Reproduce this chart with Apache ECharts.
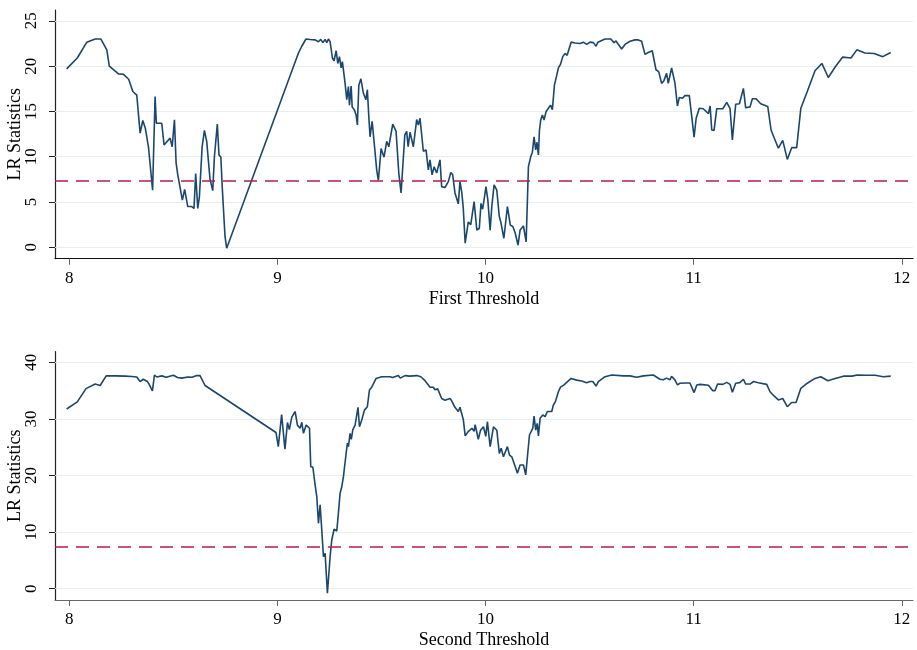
<!DOCTYPE html>
<html>
<head>
<meta charset="utf-8">
<script src="https://cdn.jsdelivr.net/npm/echarts@6/dist/echarts.min.js"></script>
<style>
  html, body { margin: 0; padding: 0; background: #fff; }
  #chart { width: 917px; height: 650px; }
</style>
</head>
<body>
<div id="chart"></div>
<script>
// 第一门槛 LR 统计量
const firstX = [7.987, 8.038, 8.084, 8.124, 8.151, 8.18, 8.192, 8.236, 8.26, 8.285, 8.305, 8.324, 8.34, 8.353, 8.365, 8.38, 8.40, 8.412, 8.418, 8.444,
  8.455, 8.484, 8.494, 8.505, 8.513, 8.521, 8.53, 8.543, 8.554, 8.569, 8.588, 8.599, 8.607, 8.617, 8.625, 8.638, 8.649, 8.66, 8.676, 8.689,
  8.697, 8.711, 8.719, 8.728, 8.735, 8.743, 8.748, 8.756, 9.100, 9.117, 9.137, 9.157, 9.181, 9.197, 9.208, 9.218, 9.229, 9.237, 9.245, 9.253,
  9.264, 9.272, 9.282, 9.29, 9.298, 9.306, 9.312, 9.325, 9.333, 9.341, 9.346, 9.354, 9.359, 9.369, 9.378, 9.384, 9.391, 9.401, 9.413, 9.425,
  9.432, 9.439, 9.445, 9.455, 9.468, 9.477, 9.485, 9.498, 9.512, 9.525, 9.535, 9.554, 9.57, 9.583, 9.594, 9.612, 9.621, 9.628, 9.637, 9.653,
  9.669, 9.677, 9.685, 9.701, 9.714, 9.725, 9.733, 9.743, 9.753, 9.765, 9.781, 9.789, 9.805, 9.821, 9.833, 9.842, 9.853, 9.869, 9.877, 9.886,
  9.893, 9.902, 9.917, 9.929, 9.945, 9.951, 9.958, 9.97, 9.978, 9.986, 10.002, 10.011, 10.022, 10.03, 10.041, 10.054, 10.066, 10.073, 10.088, 10.105,
  10.119, 10.131, 10.142, 10.156, 10.166, 10.182, 10.195, 10.206, 10.217, 10.225, 10.233, 10.241, 10.247, 10.254, 10.259, 10.265, 10.273, 10.281, 10.291, 10.302,
  10.312, 10.321, 10.331, 10.338, 10.35, 10.36, 10.371, 10.382, 10.392, 10.411, 10.43, 10.454, 10.47, 10.486, 10.502, 10.518, 10.531, 10.54, 10.574, 10.602,
  10.617, 10.627, 10.635, 10.654, 10.67, 10.694, 10.718, 10.734, 10.75, 10.766, 10.782, 10.801, 10.819, 10.832, 10.846, 10.857, 10.87, 10.878, 10.894, 10.91,
  10.922, 10.931, 10.947, 10.958, 10.979, 10.991, 11.002, 11.012, 11.027, 11.046, 11.071, 11.079, 11.087, 11.098, 11.111, 11.14, 11.159, 11.175, 11.186, 11.202,
  11.22, 11.239, 11.25, 11.271, 11.282, 11.3, 11.322, 11.356, 11.372, 11.391, 11.407, 11.428, 11.45, 11.471, 11.495, 11.515, 11.546, 11.583, 11.616, 11.647,
  11.68, 11.716, 11.756, 11.784, 11.823, 11.867, 11.909, 11.947];
const firstLR = [19.7, 20.9, 22.65, 23.0, 23.0, 21.8, 20.0, 19.15, 19.1, 18.55, 17.2, 16.8, 12.6, 14.0, 13.15, 11.1, 6.3, 16.65, 13.7, 13.7,
  11.3, 12.05, 11.1, 14.07, 9.3, 8.0, 8.05, 5.2, 6.4, 4.5, 4.5, 4.3, 8.15, 4.3, 5.6, 11.1, 12.9, 11.7, 7.5, 6.25,
  10.0, 13.6, 10.2, 9.95, 6.5, 6.3, 1.2, -0.1, 21.4, 22.2, 23.0, 22.95, 22.9, 22.7, 22.95, 22.6, 22.95, 22.6, 23.0, 22.7,
  20.9, 20.6, 21.7, 20.3, 21.05, 19.8, 20.5, 18.1, 16.3, 17.75, 15.7, 17.8, 15.5, 15.2, 14.6, 13.5, 17.9, 18.6, 17.0, 16.3,
  17.4, 14.4, 12.2, 13.9, 10.75, 8.5, 7.4, 10.9, 9.95, 11.7, 11.1, 13.6, 12.8, 8.2, 6.0, 12.4, 12.8, 11.1, 12.7, 11.1,
  14.1, 13.5, 14.25, 10.6, 10.75, 8.55, 9.65, 8.0, 8.9, 8.2, 9.65, 6.7, 6.6, 7.25, 8.25, 8.0, 6.0, 4.8, 7.25, 6.0,
  4.3, 0.45, 2.8, 2.5, 5.05, 5.2, 1.9, 2.1, 4.85, 4.2, 6.7, 5.2, 1.9, 4.5, 6.9, 6.3, 3.4, 2.8, 1.0, 4.5,
  2.45, 2.3, 1.6, 0.25, 1.9, 2.35, 0.6, 8.9, 10.0, 10.5, 12.2, 10.75, 11.6, 10.2, 12.95, 14.05, 14.6, 14.05, 15.0, 15.35,
  15.7, 15.2, 17.9, 17.8, 19.8, 20.2, 21.05, 21.4, 21.2, 22.65, 22.55, 22.5, 22.65, 22.4, 22.65, 22.6, 22.2, 22.65, 23.0, 23.0,
  22.6, 22.8, 22.5, 21.9, 22.4, 22.75, 22.9, 22.9, 22.75, 21.3, 21.5, 21.7, 19.6, 19.4, 18.1, 18.4, 19.2, 18.1, 19.8, 18.15,
  15.6, 16.55, 16.45, 16.75, 16.75, 14.4, 12.15, 14.25, 15.35, 15.3, 14.75, 15.6, 12.95, 12.9, 15.3, 15.3, 16.0, 15.3, 11.85, 15.8,
  15.85, 17.55, 15.4, 15.5, 16.4, 16.4, 15.85, 15.55, 12.95, 11.85, 10.95, 11.8, 9.7, 11.0, 11.0, 15.35, 17.2, 19.5, 20.3, 18.75,
  19.9, 21.0, 20.9, 21.8, 21.45, 21.4, 21.05, 21.5];

// 第二门槛 LR 统计量
const secondX = [7.987, 8.038, 8.08, 8.124, 8.148, 8.177, 8.22, 8.268, 8.3, 8.324, 8.34, 8.355, 8.375, 8.383, 8.399, 8.409, 8.42, 8.444, 8.465, 8.5,
  8.52, 8.54, 8.57, 8.59, 8.612, 8.628, 8.652, 8.993, 9.004, 9.02, 9.036, 9.048, 9.057, 9.069, 9.085, 9.096, 9.109, 9.117, 9.125, 9.138,
  9.154, 9.16, 9.17, 9.181, 9.189, 9.197, 9.205, 9.213, 9.221, 9.229, 9.24, 9.253, 9.261, 9.272, 9.285, 9.293, 9.301, 9.309, 9.317, 9.33,
  9.336, 9.341, 9.349, 9.355, 9.362, 9.373, 9.387, 9.394, 9.405, 9.418, 9.432, 9.442, 9.453, 9.474, 9.501, 9.541, 9.553, 9.581, 9.59, 9.613,
  9.635, 9.669, 9.689, 9.709, 9.725, 9.733, 9.749, 9.757, 9.77, 9.789, 9.805, 9.829, 9.837, 9.853, 9.869, 9.877, 9.893, 9.902, 9.918, 9.934,
  9.945, 9.95, 9.965, 9.976, 9.99, 10.001, 10.009, 10.022, 10.038, 10.054, 10.066, 10.075, 10.086, 10.105, 10.115, 10.126, 10.137, 10.153, 10.166, 10.182,
  10.193, 10.211, 10.227, 10.233, 10.241, 10.248, 10.254, 10.262, 10.275, 10.286, 10.297, 10.318, 10.326, 10.335, 10.35, 10.36, 10.377, 10.385, 10.411, 10.438,
  10.462, 10.486, 10.502, 10.515, 10.531, 10.542, 10.574, 10.606, 10.662, 10.694, 10.726, 10.758, 10.806, 10.838, 10.854, 10.87, 10.886, 10.894, 10.91, 10.922,
  10.934, 10.963, 10.982, 11.002, 11.015, 11.031, 11.071, 11.079, 11.091, 11.103, 11.115, 11.14, 11.159, 11.175, 11.186, 11.202, 11.222, 11.239, 11.25, 11.271,
  11.287, 11.311, 11.351, 11.367, 11.386, 11.407, 11.428, 11.45, 11.471, 11.492, 11.515, 11.546, 11.583, 11.611, 11.645, 11.68, 11.72, 11.76, 11.787, 11.83,
  11.872, 11.911, 11.947];
const secondLR = [31.75, 33.0, 35.35, 36.15, 35.9, 37.6, 37.6, 37.55, 37.5, 37.4, 36.6, 37.0, 36.6, 36.15, 34.95, 37.75, 37.4, 37.6, 37.35, 37.7,
  37.3, 37.2, 37.4, 37.35, 37.65, 37.65, 35.9, 27.6, 25.1, 30.75, 24.65, 29.35, 28.1, 30.3, 31.3, 28.9, 28.35, 29.4, 27.45, 28.9,
  28.35, 21.55, 21.5, 18.3, 16.25, 11.55, 14.8, 10.35, 5.65, 6.25, -0.8, 5.65, 8.6, 10.5, 10.2, 13.4, 16.85, 18.0, 19.8, 23.9,
  25.7, 25.1, 27.45, 26.4, 28.05, 28.9, 32.05, 28.6, 29.8, 31.55, 32.15, 35.1, 35.6, 37.15, 37.45, 37.45, 37.3, 37.65, 37.2, 37.65,
  37.55, 37.65, 37.45, 36.75, 36.0, 35.6, 35.6, 35.15, 35.3, 33.6, 33.3, 33.6, 33.2, 32.05, 31.3, 32.05, 29.9, 27.0, 27.8, 28.35,
  27.8, 29.0, 26.4, 28.0, 28.6, 26.9, 29.5, 25.1, 28.6, 28.0, 23.9, 24.8, 23.3, 25.1, 23.6, 23.3, 22.15, 20.4, 21.85, 21.85,
  20.1, 27.15, 28.35, 30.5, 28.0, 29.2, 27.0, 30.1, 30.7, 30.4, 31.3, 31.3, 32.45, 33.0, 34.8, 35.6, 36.0, 36.2, 37.15, 36.85,
  36.7, 36.4, 36.6, 36.6, 35.8, 36.6, 37.45, 37.75, 37.6, 37.6, 37.35, 37.6, 37.75, 37.0, 36.9, 37.2, 36.9, 37.5, 36.9, 36.0,
  36.3, 36.35, 36.35, 34.65, 36.0, 36.1, 35.95, 36.3, 35.0, 35.0, 36.15, 36.1, 36.45, 36.1, 34.7, 36.3, 36.4, 37.0, 36.15, 36.15,
  36.6, 36.4, 36.1, 34.8, 34.05, 33.35, 33.6, 32.15, 32.9, 32.9, 35.4, 36.3, 37.15, 37.45, 36.75, 37.15, 37.55, 37.55, 37.75, 37.7,
  37.7, 37.45, 37.55];

const xTicks = [8, 9, 10, 11, 12];
const firstTicks = [0, 5, 10, 15, 20, 25];
const secondTicks = [0, 10, 20, 30, 40];
const criticalValue = 7.35; // 5% 临界值

const font = 'Liberation Serif';
const lineColor = '#1a476f';
const gridColor = '#e6eef0';

function makeX(gridIndex, name, nameGap, axisColor) {
  return {
    type: 'value',
    gridIndex,
    min: 7.931,
    max: 12.054,
    name,
    nameLocation: 'middle',
    nameGap,
    nameMoveOverlap: false,
    nameTextStyle: { fontFamily: font, fontSize: 18, color: '#000' },
    axisLine: { onZero: false, lineStyle: { color: axisColor, width: 1.2 } },
    axisTick: { customValues: xTicks, length: 6, lineStyle: { color: '#666' } },
    axisLabel: { customValues: xTicks, margin: 11, fontFamily: font, fontSize: 17, color: '#000' },
    splitLine: { show: false },
  };
}

function makeY(gridIndex, min, max, ticks) {
  return {
    type: 'value',
    gridIndex,
    min,
    max,
    name: 'LR Statistics',
    nameLocation: 'middle',
    nameGap: 31,
    nameMoveOverlap: false,
    nameTextStyle: { fontFamily: font, fontSize: 18, color: '#000' },
    axisLine: { show: true, lineStyle: { color: '#222', width: 1.2 } },
    axisTick: { show: true, customValues: ticks, length: 6, lineStyle: { color: '#222' } },
    axisLabel: { customValues: ticks, rotate: 90, margin: 15, fontFamily: font, fontSize: 17, color: '#000' },
    splitLine: { show: false },
  };
}

// 网格线和临界值虚线
function refLines(gridIndex, ticks) {
  return [
    {
      type: 'line',
      xAxisIndex: gridIndex,
      yAxisIndex: gridIndex,
      data: [],
      z: 1,
      silent: true,
      markLine: {
        z: 1,
        symbol: 'none',
        silent: true,
        label: { show: false },
        lineStyle: { color: gridColor, type: 'solid', width: 1.2 },
        data: ticks.map((t) => ({ yAxis: t })),
      },
    },
    {
      type: 'line',
      xAxisIndex: gridIndex,
      yAxisIndex: gridIndex,
      data: [],
      z: 4,
      silent: true,
      markLine: {
        z: 4,
        symbol: 'none',
        silent: true,
        label: { show: false },
        lineStyle: { color: '#b81c45', type: [13, 8], width: 1.5, opacity: 1 },
        data: [{ yAxis: criticalValue }],
      },
    },
  ];
}

function lrSeries(gridIndex, xs, ys) {
  return {
    type: 'line',
    xAxisIndex: gridIndex,
    yAxisIndex: gridIndex,
    data: xs.map((x, i) => [x, ys[i]]),
    showSymbol: false,
    z: 3,
    lineStyle: { color: lineColor, width: 1.6 },
    itemStyle: { color: lineColor },
  };
}

const myChart = echarts.init(document.getElementById('chart'), null, { renderer: 'canvas' });
myChart.setOption({
  animation: false,
  backgroundColor: '#fff',
  grid: [
    { left: 55, right: 4, top: 10, height: 248.7, outerBoundsMode: 'none', containLabel: false },
    { left: 55, right: 4, top: 351.7, height: 248.3, outerBoundsMode: 'none', containLabel: false },
  ],
  xAxis: [
    makeX(0, 'First Threshold', 32, '#111'),
    makeX(1, 'Second Threshold', 31, '#666'),
  ],
  yAxis: [
    makeY(0, -1.26, 26.2, firstTicks),
    makeY(1, -2.0, 41.87, secondTicks),
  ],
  series: [
    ...refLines(0, firstTicks),
    ...refLines(1, secondTicks),
    lrSeries(0, firstX, firstLR),
    lrSeries(1, secondX, secondLR),
  ],
});
</script>
</body>
</html>
